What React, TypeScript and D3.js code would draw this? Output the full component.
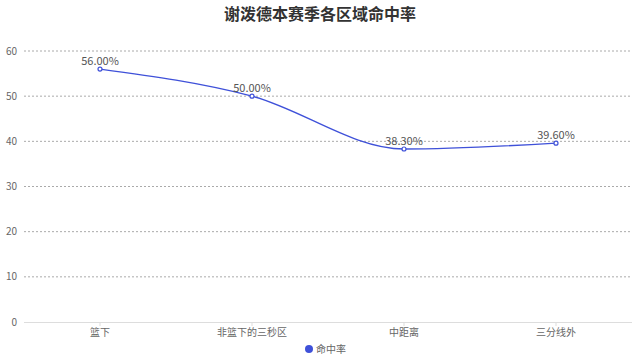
import React from "react";
import * as d3 from "d3";

const categories = ["篮下", "非篮下的三秒区", "中距离", "三分线外"];
const values = [56.0, 50.0, 38.3, 39.6];
const yTicks = [0, 10, 20, 30, 40, 50, 60];
const seriesName = "命中率";
const title = "谢泼德本赛季各区域命中率";

export default function App() {
  const W = 640, H = 360;
  const left = 24, right = 632, top = 51, bottom = 322;
  const x = d3.scaleBand<string>().domain(categories).range([left, right]);
  const y = d3.scaleLinear().domain([0, 60]).range([bottom, top]);
  const color = "#3f51d9";
  const font = "'Noto Sans CJK SC', 'Noto Sans', sans-serif";
  const pts: [number, number][] = values.map((v, i) => [x(categories[i])! + x.bandwidth() / 2, y(v)]);
  const line = d3.line().curve(d3.curveMonotoneX)(pts) || "";
  return (
    <svg width={W} height={H} style={{ position: "absolute", left: 0, top: 0 }} fontFamily={font}>
      <text x={W / 2} y={20} textAnchor="middle" fontSize={16} fontWeight="bold" fill="#333">{title}</text>
      {yTicks.map((t) => (
        <g key={t}>
          {t > 0 && (
            <line x1={left} x2={right} y1={y(t)} y2={y(t)} stroke="#aaa" strokeDasharray="2,2" strokeWidth={1} />
          )}
          <text x={left - 7} y={y(t)} dy="0.35em" textAnchor="end" fontSize={10} fill="#666">{t}</text>
        </g>
      ))}
      <line x1={left} x2={right} y1={bottom + 0.5} y2={bottom + 0.5} stroke="#ddd" />
      {categories.map((c) => (
        <g key={c}>
          <line x1={x(c)! + x.bandwidth() / 2} x2={x(c)! + x.bandwidth() / 2} y1={bottom} y2={bottom + 4} stroke="#ddd" />
          <text x={x(c)! + x.bandwidth() / 2} y={bottom + 10} dy="0.35em" textAnchor="middle" fontSize={10} fill="#666">{c}</text>
        </g>
      ))}
      <path d={line} fill="none" stroke={color} strokeWidth={1.3} />
      {pts.map((p, i) => (
        <g key={i}>
          <circle cx={p[0]} cy={p[1]} r={2} fill="#fff" stroke={color} strokeWidth={1.2} />
          <text x={p[0]} y={p[1] - 4} textAnchor="middle" fontSize={11} fill="#555">{values[i].toFixed(2)}%</text>
        </g>
      ))}
      <circle cx={309} cy={349} r={4} fill={color} />
      <text x={316} y={349} dy="0.35em" fontSize={10} fill="#666">{seriesName}</text>
    </svg>
  );
}
